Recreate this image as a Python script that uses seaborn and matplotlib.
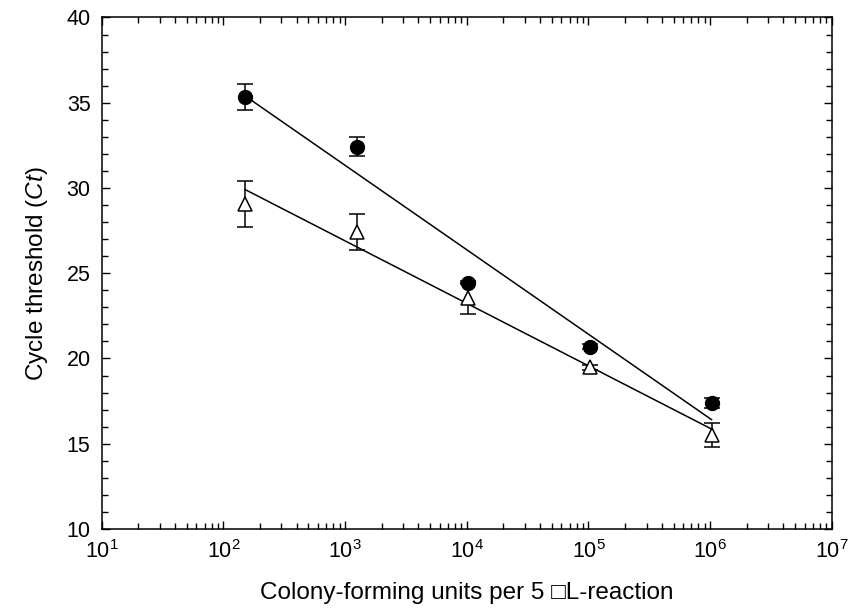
import numpy as np
import matplotlib
matplotlib.use("Agg")
import matplotlib.pyplot as plt
import seaborn as sns
from matplotlib.ticker import FixedLocator, LogLocator, MultipleLocator

# Datos
cfu = [150, 1260, 10300, 103000, 1030000]
ct_circle = [35.35, 32.42, 24.45, 20.69, 17.41]
err_circle = [0.75, 0.55, 0.1, 0.15, 0.3]
ct_tri = [29.08, 27.41, 23.53, 19.48, 15.51]
err_tri = [1.35, 1.05, 0.9, 0.15, 0.7]
x_ticks = [1e1, 1e2, 1e3, 1e4, 1e5, 1e6, 1e7]

sns.set_style("ticks")
plt.rcParams["font.family"] = ["Liberation Sans", "DejaVu Sans"]
plt.rcParams["mathtext.fontset"] = "custom"
plt.rcParams["mathtext.rm"] = "Liberation Sans"
plt.rcParams["mathtext.it"] = "Liberation Sans:italic"
for k in ("text.color", "axes.labelcolor", "xtick.color", "ytick.color", "axes.edgecolor"):
    plt.rcParams[k] = "black"

fig = plt.figure(figsize=(8.51, 6.09), dpi=100)
ax = fig.add_axes([0.1195, 0.1314, 0.858, 0.8399])
ax.set_xscale("log")

# Rectas de regresión Ct ~ log10(cfu)
logx = np.log10(cfu)
for ct in (ct_circle, ct_tri):
    m, b = np.polyfit(logx, ct, 1)
    xs = np.array([cfu[0], cfu[-1]])
    sns.lineplot(x=xs, y=m * np.log10(xs) + b, color="black", lw=1.1, ax=ax, zorder=2)

ax.errorbar(cfu, ct_tri, yerr=err_tri, fmt="^", ms=10.5, mfc="white", mec="black",
            mew=1.1, ecolor="black", elinewidth=1.1, capsize=6, capthick=1.1, zorder=3)
ax.errorbar(cfu, ct_circle, yerr=err_circle, fmt="o", ms=10, mfc="black", mec="black",
            ecolor="black", elinewidth=1.1, capsize=6, capthick=1.1, zorder=4)

ax.set_xlim(10, 1e7)
ax.set_ylim(10, 40)
ax.xaxis.set_major_locator(FixedLocator(x_ticks))
ax.xaxis.set_minor_locator(LogLocator(base=10, subs=np.arange(2, 10), numticks=20))
ax.yaxis.set_major_locator(MultipleLocator(5))
ax.yaxis.set_minor_locator(MultipleLocator(1))
ax.tick_params(which="both", direction="in", top=True, right=True, width=1.0,
               labelsize=15.5, color="black", labelcolor="black")
ax.tick_params(which="major", length=6, pad=8)
ax.tick_params(which="minor", length=4)
for s in ax.spines.values():
    s.set_linewidth(1.1)
    s.set_color("black")

ax.set_xlabel("Colony-forming units per 5 \u25a1L-reaction", fontsize=17.5, labelpad=14)
ax.set_ylabel("Cycle threshold ($\\mathit{Ct}$)", fontsize=17.5, labelpad=12)

fig.savefig("out.png", dpi=100)
